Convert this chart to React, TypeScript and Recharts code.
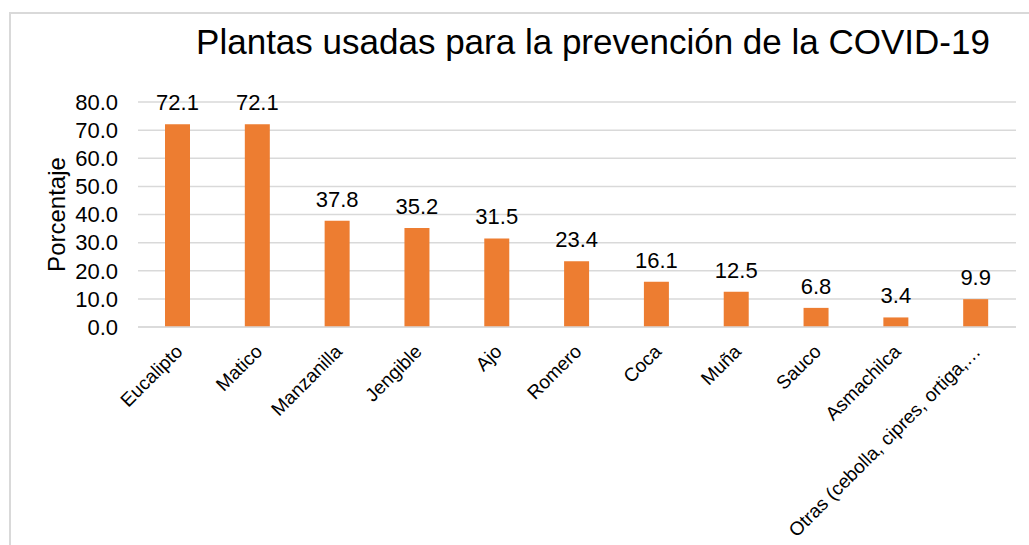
import React from "react";
import { BarChart, Bar, XAxis, YAxis, CartesianGrid, LabelList } from "recharts";

const plants = [
  "Eucalipto",
  "Matico",
  "Manzanilla",
  "Jengible",
  "Ajo",
  "Romero",
  "Coca",
  "Muña",
  "Sauco",
  "Asmachilca",
  "Otras (cebolla, cipres, ortiga,…",
];
const percents = [72.1, 72.1, 37.8, 35.2, 31.5, 23.4, 16.1, 12.5, 6.8, 3.4, 9.9];
const yTicks = [0, 10, 20, 30, 40, 50, 60, 70, 80];

const data = plants.map((name, i) => ({ name, value: percents[i] }));

const FONT = "'Liberation Sans', Arial, sans-serif";

const PlantTick = (props: any) => {
  const { x, y, payload } = props;
  return (
    <g transform={`translate(${x + 1},${y + 13})`}>
      <text
        transform="rotate(-45)"
        textAnchor="end"
        dy="0.35em"
        fontSize={19}
        fontFamily={FONT}
        fill="#000"
      >
        {payload.value}
      </text>
    </g>
  );
};

const YLabel = (props: any) => {
  const vb = props.viewBox || { x: 0, y: 102, width: 138, height: 225 };
  const cx = vb.x + 56;
  const cy = vb.y + vb.height / 2;
  return (
    <text
      x={cx}
      y={cy}
      transform={`rotate(-90, ${cx}, ${cy})`}
      textAnchor="middle"
      dominantBaseline="central"
      fontSize={24}
      fontFamily={FONT}
      fill="#000"
    >
      Porcentaje
    </text>
  );
};

export default function App() {
  return (
    <div
      style={{
        position: "fixed",
        left: 0,
        top: 0,
        width: 1029,
        height: 545,
        overflow: "hidden",
        background: "#fff",
        fontFamily: FONT,
      }}
    >
      <div
        style={{
          position: "absolute",
          left: 9,
          top: 12,
          width: 1100,
          height: 600,
          border: "2px solid #d9d9d9",
        }}
      />
      <div
        style={{
          position: "absolute",
          left: 100,
          width: 986,
          top: 22,
          textAlign: "center",
          fontSize: 35,
          color: "#000",
          whiteSpace: "nowrap",
        }}
      >
        Plantas usadas para la prevención de la COVID-19
      </div>
      <div style={{ position: "absolute", left: 0, top: 0 }}>
        <BarChart
          width={1029}
          height={545}
          data={data}
          margin={{ top: 102, right: 13, left: 0, bottom: 0 }}
          barSize={25}
        >
          <CartesianGrid vertical={false} stroke="#d9d9d9" strokeWidth={1.5} />
          <XAxis
            dataKey="name"
            height={218}
            interval={0}
            tickLine={false}
            axisLine={{ stroke: "#d9d9d9", strokeWidth: 1.5 }}
            tick={<PlantTick />}
          />
          <YAxis
            width={138}
            domain={[0, 80]}
            ticks={yTicks}
            interval={0}
            tickFormatter={(v: number) => v.toFixed(1)}
            axisLine={false}
            tickLine={false}
            tickSize={0}
            tickMargin={20}
            tick={{ fontSize: 22, fill: "#000", fontFamily: FONT }}
            label={<YLabel />}
          />
          <Bar dataKey="value" fill="#ED7D31" isAnimationActive={false}>
            <LabelList
              dataKey="value"
              position="top"
              offset={14}
              formatter={(v: any) => Number(v).toFixed(1)}
              style={{ fontSize: 22, fill: "#000", fontFamily: FONT }}
            />
          </Bar>
        </BarChart>
      </div>
    </div>
  );
}
